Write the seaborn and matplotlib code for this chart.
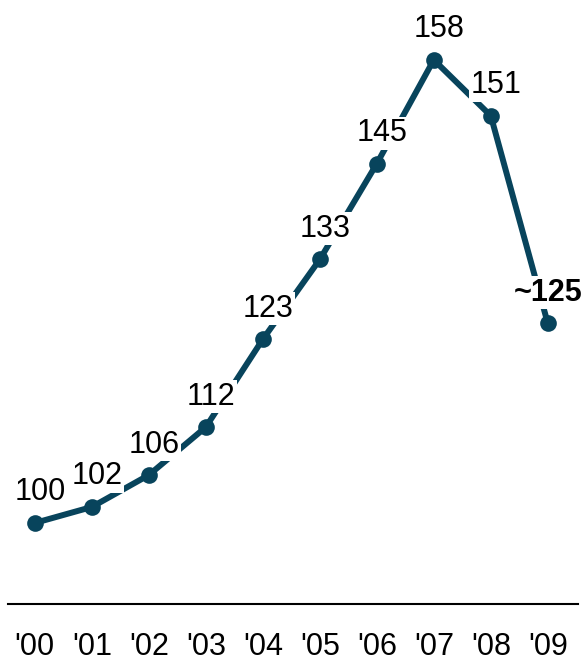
import matplotlib.pyplot as plt
import seaborn as sns
import pandas as pd

years = ["'00", "'01", "'02", "'03", "'04", "'05", "'06", "'07", "'08", "'09"]
values = [100, 102, 106, 112, 123, 133, 145, 158, 151, 125]
labels = ["100", "102", "106", "112", "123", "133", "145", "158", "151", "~125"]

sns.set_style("white")
plt.rcParams["font.family"] = ["Liberation Sans", "DejaVu Sans"]

df = pd.DataFrame({"x": range(len(years)), "value": values})
color = "#08445c"

fig = plt.figure(figsize=(5.86, 6.63), dpi=100)
ax = fig.add_axes([8 / 586, 59 / 663, 570 / 586, 604 / 663])

sns.lineplot(data=df, x="x", y="value", color=color, linewidth=4.3,
             marker="o", markersize=12, markeredgewidth=0, ax=ax, zorder=2)

for i, (v, lab) in enumerate(zip(values, labels)):
    bold = lab.startswith("~")
    ax.annotate(lab, (i, v), xytext=(4 if not bold else 0, 22), textcoords="offset points",
                ha="center", va="center", fontsize=22,
                fontweight="bold" if bold else "normal", color="black",
                bbox=dict(boxstyle="square,pad=0.05", fc="white", ec="none"), zorder=3)

ax.set_xlim(-0.47, 9.53)
ax.set_ylim(89.85, 165.5)
ax.set_xticks(range(len(years)))
ax.set_xticklabels(years, fontsize=22, color="black")
ax.set_yticks([])
ax.tick_params(axis="x", length=0, pad=20)
ax.set_xlabel("")
ax.set_ylabel("")
for s in ["top", "left", "right"]:
    ax.spines[s].set_visible(False)
ax.spines["bottom"].set_color("black")
ax.spines["bottom"].set_linewidth(1.5)

fig.savefig("out.png", dpi=100)
